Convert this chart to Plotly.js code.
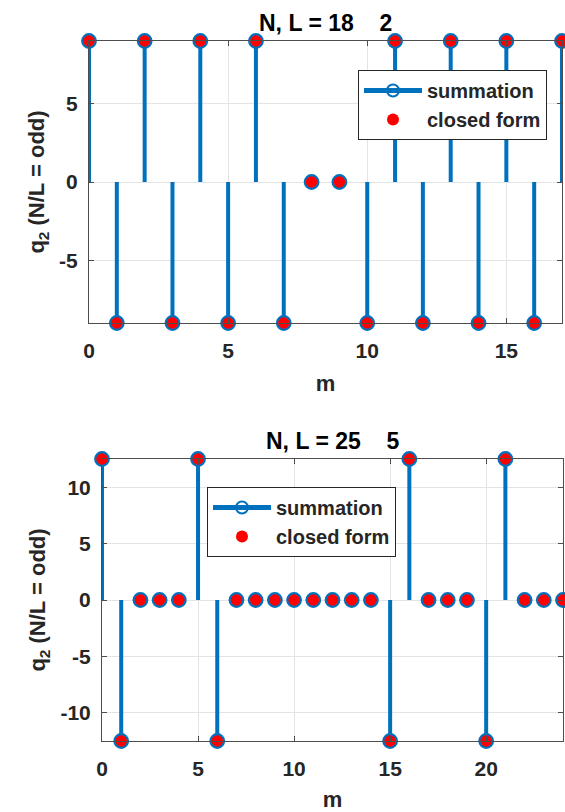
<!DOCTYPE html>
<html><head><meta charset="utf-8">
<script src="https://cdn.plot.ly/plotly-3.0.1.min.js"></script>
<style>html,body{margin:0;padding:0;background:#fff}#chart{width:565px;height:812px}</style>
</head><body><div id="chart"></div>
<script>
// ---- data ----
const m1 = [0,1,2,3,4,5,6,7,8,9,10,11,12,13,14,15,16,17];
const q1 = [9,-9,9,-9,9,-9,9,-9,0,0,-9,9,-9,9,-9,9,-9,9];
const title1 = 'N, L = 18\u00a0\u00a0\u00a0\u00a02';
const m2 = [0,1,2,3,4,5,6,7,8,9,10,11,12,13,14,15,16,17,18,19,20,21,22,23,24];
const q2 = [12.5,-12.5,0,0,0,12.5,-12.5,0,0,0,0,0,0,0,0,-12.5,12.5,0,0,0,-12.5,12.5,0,0,0];
const title2 = 'N, L = 25\u00a0\u00a0\u00a0\u00a05';
const xTicks1 = [0,5,10,15];
const yTicks1 = [-5,0,5];
const xTicks2 = [0,5,10,15,20];
const yTicks2 = [-10,-5,0,5,10];
const seriesNames = ['summation','closed form'];
const xLabel = 'm';
const yLabel = 'q<sub>2</sub> (N/L = odd)';

// ---- helpers ----
const BLUE = '#0072BD', RED = '#FF0000', TXT = '#262626';
const FONT = 'Liberation Sans, Arial, sans-serif';
function stems(m, q){ const x=[], y=[]; m.forEach((v,i)=>{x.push(v,v,null); y.push(0,q[i],null);}); return {x,y}; }
function gapped(a){ const r=[]; a.forEach(v=>{r.push(v,null);}); return r; }

function traces(m, q, xa, ya, leg){
  const s = stems(m,q);
  return [
    {type:'scatter', mode:'lines', x:s.x, y:s.y, xaxis:xa, yaxis:ya, showlegend:false,
     line:{color:BLUE, width:4}, hoverinfo:'skip', cliponaxis:false},
    {type:'scatter', mode:'lines+markers', x:gapped(m), y:gapped(q), xaxis:xa, yaxis:ya,
     name:seriesNames[0], legend:leg, connectgaps:false, cliponaxis:false,
     line:{color:BLUE, width:4},
     marker:{symbol:'circle-open', size:13, color:BLUE, line:{width:2.8, color:BLUE}}},
    {type:'scatter', mode:'markers', x:m, y:q, xaxis:xa, yaxis:ya, name:seriesNames[1], legend:leg,
     cliponaxis:false, marker:{symbol:'circle', size:11.5, color:RED}}
  ];
}

const data = [].concat(traces(m1,q1,'x','y','legend'), traces(m2,q2,'x2','y2','legend2'));

function xax(range, ticks, dom, anchor){
  return {domain:dom, range:range, anchor:anchor, tickvals:ticks, ticktext:ticks.map(String),
    showgrid:true, gridcolor:'#e4e4e4', gridwidth:1, zeroline:false,
    showline:true, mirror:'ticks', linecolor:'#4d4d4d', linewidth:1,
    ticks:'inside', ticklen:5, tickcolor:'#4d4d4d', ticklabelstandoff:9,
    tickfont:{family:FONT, size:21, color:TXT, weight:'bold'},
    title:{text:xLabel, font:{family:FONT, size:22, color:TXT, weight:'bold'}, standoff:14}};
}
function yax(range, ticks, dom, anchor){
  return {domain:dom, range:range, anchor:anchor, tickvals:ticks, ticktext:ticks.map(String),
    showgrid:true, gridcolor:'#e4e4e4', gridwidth:1, zeroline:false,
    showline:true, mirror:'ticks', linecolor:'#4d4d4d', linewidth:1,
    ticks:'inside', ticklen:5, tickcolor:'#4d4d4d', ticklabelstandoff:6,
    tickfont:{family:FONT, size:21, color:TXT, weight:'bold'},
    title:{text:yLabel, font:{family:FONT, size:22, color:TXT, weight:'bold'}, standoff:8}};
}

const W=565, H=812;
const legendCommon = {bgcolor:'#ffffff', bordercolor:'#262626', borderwidth:1,
  font:{family:FONT, size:20, color:TXT, weight:'bold'}, itemsizing:'constant', itemwidth:58,
  tracegroupgap:0};

const layout = {
  width:W, height:H, margin:{l:0,r:0,t:0,b:0}, paper_bgcolor:'#fff', plot_bgcolor:'#fff',
  font:{family:FONT, color:TXT, weight:'bold'},
  xaxis: xax([0,17], xTicks1, [89/W, 562/W], 'y'),
  yaxis: yax([-9,9], yTicks1, [1-323/H, 1-41/H], 'x'),
  xaxis2: xax([0,24], xTicks2, [102/W, 563/W], 'y2'),
  yaxis2: yax([-12.5,12.5], yTicks2, [1-741/H, 1-459/H], 'x2'),
  legend: Object.assign({x:547/W, xanchor:'right', y:1-70/H, yanchor:'top'}, legendCommon),
  legend2: Object.assign({x:207/W, xanchor:'left', y:1-487/H, yanchor:'top'}, legendCommon),
  annotations:[
    {text:title1, xref:'paper', yref:'paper', x:(89+562)/2/W, y:1-23/H, xanchor:'center', yanchor:'middle',
     showarrow:false, font:{family:FONT, size:23, color:'#000', weight:'bold'}},
    {text:title2, xref:'paper', yref:'paper', x:(102+563)/2/W, y:1-441/H, xanchor:'center', yanchor:'middle',
     showarrow:false, font:{family:FONT, size:23, color:'#000', weight:'bold'}}
  ],
  showlegend:true
};

Plotly.newPlot('chart', data, layout, {staticPlot:true, displayModeBar:false});
</script></body></html>
